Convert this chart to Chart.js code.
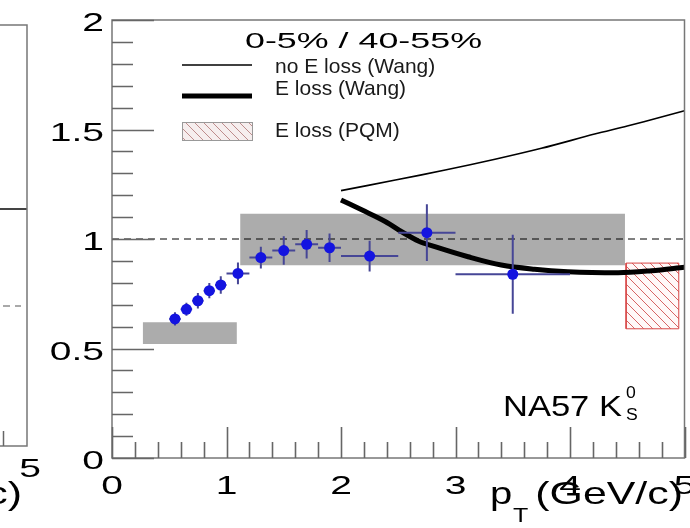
<!DOCTYPE html>
<html>
<head>
<meta charset="utf-8">
<script src="https://cdn.jsdelivr.net/npm/chart.js@4.4.1/dist/chart.umd.min.js"></script>
<style>
  body { margin: 0; background: #fff; }
  #wrap { position: relative; width: 690px; height: 528px; overflow: hidden; }
  #c1 { position: absolute; left: 0; top: 0; }
  #c0 { position: absolute; left: 0; top: 0; }
</style>
</head>
<body>
<div id="wrap">
  <canvas id="c1" width="690" height="528"></canvas>
  <canvas id="c0" width="45" height="528"></canvas>
</div>
<script>
// datos NA57 K0s, Rcp 0-5% / 40-55%
var ptVals  = [0.55, 0.65, 0.75, 0.85, 0.95, 1.1, 1.3, 1.5, 1.7, 1.9, 2.25, 2.75, 3.5];
var rcpVals = [0.635, 0.679, 0.718, 0.764, 0.79, 0.843, 0.915, 0.947, 0.976, 0.96, 0.922, 1.029, 0.839];
var ptErr   = [0.05, 0.05, 0.05, 0.05, 0.05, 0.1, 0.1, 0.1, 0.1, 0.1, 0.25, 0.25, 0.5];
var rcpErr  = [0.03, 0.03, 0.035, 0.035, 0.04, 0.05, 0.05, 0.065, 0.065, 0.065, 0.07, 0.13, 0.18];

// cajas de error sistematico (gris)
var sysX0 = [0.27, 1.12];
var sysX1 = [1.09, 4.48];
var sysY0 = [0.52, 0.88];
var sysY1 = [0.62, 1.115];

// PQM (caja rayada)
var pqmX = [4.49, 4.95];
var pqmY = [0.59, 0.89];

// curvas de Wang
var noLossX = [2.0, 2.475, 2.91, 3.345, 3.75, 4.215, 4.5, 4.79, 5.0];
var noLossY = [1.221, 1.269, 1.315, 1.364, 1.414, 1.479, 1.516, 1.556, 1.586];
var eLossX  = [2.0, 2.185, 2.39, 2.53, 2.68, 2.82, 3.11, 3.40, 3.69, 3.98, 4.42, 4.71, 5.0];
var eLossY  = [1.178, 1.132, 1.079, 1.033, 0.99, 0.965, 0.919, 0.881, 0.862, 0.851, 0.846, 0.855, 0.871];

// linea de referencia
var refX = [0, 5];
var refY = [1, 1];

// ejes
var xTickVals = [0, 1, 2, 3, 4, 5];
var xTickLabels = ["0", "1", "2", "3", "4", "5"];
var yTickVals = [0, 0.5, 1, 1.5, 2];
var yTickLabels = ["0", "0.5", "1", "1.5", "2"];
var xMinorStep = 0.2;
var yMinorStep = 0.1;

var legendTitle = "0-5% / 40-55%";
var labelNoLoss = "no E loss (Wang)";
var labelELoss = "E loss (Wang)";
var labelPQM = "E loss (PQM)";
var legendOrder = [labelNoLoss, labelELoss, labelPQM];
var tagText = "NA57 K";

// panel vecino (solo se ve el borde)
var leftSolidY = 1.126;
var leftDashY = 0.665;

var FONT = '"Liberation Sans", Arial, sans-serif';

function toXY(xs, ys) {
    var d = [];
    for (var i = 0; i < xs.length; i++) {
        d.push({ x: xs[i], y: ys[i] });
    }
    return d;
}
function rectPts(x0, x1, y0, y1) {
    return [{ x: x0, y: y0 }, { x: x1, y: y0 }, { x: x1, y: y1 }, { x: x0, y: y1 }, { x: x0, y: y0 }];
}

// patron rayado rojo
function makeHatch(color, bg) {
    var c = document.createElement('canvas');
    c.width = 9; c.height = 9;
    var g = c.getContext('2d');
    g.fillStyle = bg;
    g.fillRect(0, 0, 9, 9);
    g.strokeStyle = color;
    g.lineWidth = 1;
    g.beginPath();
    g.moveTo(-1, -1); g.lineTo(10, 10);
    g.moveTo(-1, 8); g.lineTo(1, 10);
    g.moveTo(8, -1); g.lineTo(10, 1);
    g.stroke();
    return g.createPattern(c, 'repeat');
}
var hatchRed = makeHatch('rgb(215,100,100)', '#fff8f8');
var hatchLegend = makeHatch('rgb(190,140,140)', '#f6eeee');

// texto estirado horizontalmente, devuelve donde termina
function stretchText(ctx, text, x, y, size, sx, align) {
    ctx.save();
    ctx.font = size + 'px ' + FONT;
    ctx.textAlign = 'left';
    ctx.textBaseline = 'alphabetic';
    var w = ctx.measureText(text).width * sx;
    var x0 = x;
    if (align === 'right') x0 = x - w;
    if (align === 'center') x0 = x - w / 2;
    ctx.translate(x0, y);
    ctx.scale(sx, 1);
    ctx.fillText(text, 0, 0);
    ctx.restore();
    return x0 + w;
}

var datasets = [];
for (var b = 0; b < sysX0.length; b++) {
    datasets.push({
        type: 'line',
        data: rectPts(sysX0[b], sysX1[b], sysY0[b], sysY1[b]),
        borderWidth: 0,
        borderColor: 'rgba(0,0,0,0)',
        backgroundColor: '#acacac',
        fill: 'shape',
        pointRadius: 0,
        tension: 0,
        order: 10
    });
}
datasets.push({
    type: 'line',
    label: labelPQM,
    legendKind: 'box',
    data: rectPts(pqmX[0], pqmX[1], pqmY[0], pqmY[1]),
    borderWidth: 1,
    borderColor: 'rgb(215,70,70)',
    backgroundColor: hatchRed,
    fill: 'shape',
    pointRadius: 0,
    tension: 0,
    order: 9
});
datasets.push({
    type: 'line',
    data: toXY(refX, refY),
    borderWidth: 1,
    borderColor: '#000',
    borderDash: [7, 5],
    fill: false,
    pointRadius: 0,
    order: 8
});
datasets.push({
    type: 'line',
    label: labelNoLoss,
    legendKind: 'line',
    data: toXY(noLossX, noLossY),
    borderWidth: 1.6,
    borderColor: '#000',
    fill: false,
    pointRadius: 0,
    tension: 0.3,
    order: 7
});
datasets.push({
    type: 'line',
    label: labelELoss,
    legendKind: 'line',
    data: toXY(eLossX, eLossY),
    borderWidth: 5,
    borderColor: '#000',
    fill: false,
    pointRadius: 0,
    tension: 0.35,
    cubicInterpolationMode: 'monotone',
    order: 6
});
var ptsIndex = datasets.length;
datasets.push({
    type: 'scatter',
    data: toXY(ptVals, rcpVals),
    pointRadius: 5.5,
    pointBackgroundColor: '#1414e0',
    pointBorderColor: '#1414e0',
    pointBorderWidth: 0,
    showLine: false,
    order: 1
});

// barras de error de los puntos
var errorBars = {
    id: 'errorBars',
    beforeDatasetDraw: function (chart, args) {
        if (args.index !== ptsIndex) return;
        var ctx = chart.ctx;
        var xs = chart.scales.x, ys = chart.scales.y;
        ctx.save();
        ctx.strokeStyle = 'rgb(70,70,150)';
        ctx.lineWidth = 2;
        for (var i = 0; i < ptVals.length; i++) {
            var px = xs.getPixelForValue(ptVals[i]);
            var py = ys.getPixelForValue(rcpVals[i]);
            ctx.beginPath();
            ctx.moveTo(xs.getPixelForValue(ptVals[i] - ptErr[i]), py);
            ctx.lineTo(xs.getPixelForValue(ptVals[i] + ptErr[i]), py);
            ctx.moveTo(px, ys.getPixelForValue(rcpVals[i] - rcpErr[i]));
            ctx.lineTo(px, ys.getPixelForValue(rcpVals[i] + rcpErr[i]));
            ctx.stroke();
        }
        ctx.restore();
    }
};

// marco, ticks hacia dentro y etiquetas al estilo ROOT
var rootFrame = {
    id: 'rootFrame',
    afterDraw: function (chart) {
        var ctx = chart.ctx;
        var a = chart.chartArea;
        var xs = chart.scales.x, ys = chart.scales.y;
        ctx.save();
        ctx.strokeStyle = '#777';
        ctx.lineWidth = 1.5;
        ctx.strokeRect(a.left, a.top, a.right - a.left, a.bottom - a.top);

        ctx.strokeStyle = '#666';
        ctx.lineWidth = 1.6;
        ctx.beginPath();
        var n = Math.round((xs.max - xs.min) / xMinorStep);
        for (var i = 0; i <= n; i++) {
            var v = xs.min + i * xMinorStep;
            var px = Math.round(xs.getPixelForValue(v)) + 0.5;
            var major = Math.abs(v - Math.round(v)) < 1e-6;
            ctx.moveTo(px, a.bottom);
            ctx.lineTo(px, a.bottom - (major ? 31 : 16));
        }
        var m = Math.round((ys.max - ys.min) / yMinorStep);
        for (var j = 0; j <= m; j++) {
            var w = ys.min + j * yMinorStep;
            var py = Math.round(ys.getPixelForValue(w)) + 0.5;
            var maj = Math.abs(w * 2 - Math.round(w * 2)) < 1e-6;
            ctx.moveTo(a.left, py);
            ctx.lineTo(a.left + (maj ? 42 : 21), py);
        }
        ctx.stroke();

        ctx.fillStyle = '#000';
        for (var k = 0; k < yTickVals.length; k++) {
            stretchText(ctx, yTickLabels[k], a.left - 8, ys.getPixelForValue(yTickVals[k]) + 11, 26, 1.5, 'right');
        }
        for (var q = 0; q < xTickVals.length; q++) {
            stretchText(ctx, xTickLabels[q], xs.getPixelForValue(xTickVals[q]), a.bottom + 36, 26, 1.5, 'center');
        }

        // titulo del eje x
        stretchText(ctx, 'p', 490, 504, 32, 1.25, 'left');
        stretchText(ctx, 'T', 513, 522, 20, 1.25, 'left');
        stretchText(ctx, '(GeV/c)', 683, 504, 32, 1.34, 'right');

        // etiqueta NA57 K0s
        var endK = stretchText(ctx, tagText, 503, 416, 30, 1.15, 'left');
        stretchText(ctx, '0', endK + 4, 398, 16, 1.1, 'left');
        stretchText(ctx, 'S', endK + 4, 420, 16, 1.1, 'left');

        // leyenda
        ctx.font = '22px ' + FONT;
        var tw = ctx.measureText(legendTitle).width;
        stretchText(ctx, legendTitle, 245, 48, 22, 237 / tw, 'left');
        var rows = [65, 96, 131];
        var textY = [73, 95, 137];
        legendOrder.forEach(function (lbl, r) {
            var ds = chart.data.datasets.find(function (d) { return d.label === lbl; });
            var y = rows[r];
            if (ds.legendKind === 'line') {
                ctx.strokeStyle = ds.borderColor;
                ctx.lineWidth = ds.borderWidth;
                ctx.beginPath();
                ctx.moveTo(182, y);
                ctx.lineTo(252, y);
                ctx.stroke();
            } else {
                ctx.fillStyle = hatchLegend;
                ctx.fillRect(182, 122, 70, 18);
                ctx.strokeStyle = '#999';
                ctx.lineWidth = 1;
                ctx.strokeRect(182.5, 122.5, 70, 18);
            }
            ctx.fillStyle = '#1a1a1a';
            stretchText(ctx, ds.label, 275, textY[r], 21, 1.0, 'left');
        });
        ctx.restore();
    }
};

var chart = new Chart(document.getElementById('c1'), {
    data: { datasets: datasets },
    options: {
        responsive: false,
        animation: false,
        devicePixelRatio: 1,
        layout: { padding: { left: 112, top: 20, right: 3, bottom: 70 } },
        plugins: { legend: { display: false }, tooltip: { enabled: false } },
        scales: {
            x: {
                type: 'linear', min: 0, max: 5,
                ticks: { display: false },
                grid: { display: false, drawTicks: false },
                border: { display: false }
            },
            y: {
                type: 'linear', min: 0, max: 2,
                ticks: { display: false },
                grid: { display: false, drawTicks: false },
                border: { display: false }
            }
        }
    },
    plugins: [errorBars, rootFrame]
});

// panel de la izquierda (cortado)
var leftFrame = {
    id: 'leftFrame',
    afterDraw: function (ch) {
        var ctx = ch.ctx;
        var a = ch.chartArea;
        var xs = ch.scales.x;
        ctx.save();
        ctx.strokeStyle = '#777';
        ctx.lineWidth = 1.5;
        ctx.beginPath();
        ctx.moveTo(a.left - 2, a.top);
        ctx.lineTo(a.right, a.top);
        ctx.lineTo(a.right, a.bottom);
        ctx.lineTo(a.left - 2, a.bottom);
        ctx.stroke();
        ctx.strokeStyle = '#666';
        ctx.beginPath();
        var px = Math.round(xs.getPixelForValue(4.8)) + 0.5;
        ctx.moveTo(px, a.bottom);
        ctx.lineTo(px, a.bottom - 15);
        ctx.stroke();
        ctx.fillStyle = '#000';
        stretchText(ctx, '5', 30, 477, 26, 1.5, 'center');
        stretchText(ctx, '(GeV/c)', 22, 504, 32, 1.34, 'right');
        ctx.restore();
    }
};

new Chart(document.getElementById('c0'), {
    type: 'line',
    data: {
        datasets: [{
            data: toXY([4.7, 5], [leftSolidY, leftSolidY]),
            borderColor: '#444', borderWidth: 2, pointRadius: 0
        }, {
            data: toXY([4.7, 4.95], [leftDashY, leftDashY]),
            borderColor: '#555', borderWidth: 1.2, borderDash: [7, 5], pointRadius: 0
        }]
    },
    options: {
        responsive: false,
        animation: false,
        devicePixelRatio: 1,
        layout: { padding: { left: 0, top: 25, right: 18, bottom: 82 } },
        plugins: { legend: { display: false }, tooltip: { enabled: false } },
        scales: {
            x: { type: 'linear', min: 4.775, max: 5, ticks: { display: false }, grid: { display: false, drawTicks: false }, border: { display: false } },
            y: { type: 'linear', min: 0, max: 2, ticks: { display: false }, grid: { display: false, drawTicks: false }, border: { display: false } }
        }
    },
    plugins: [leftFrame]
});
</script>
</body>
</html>
